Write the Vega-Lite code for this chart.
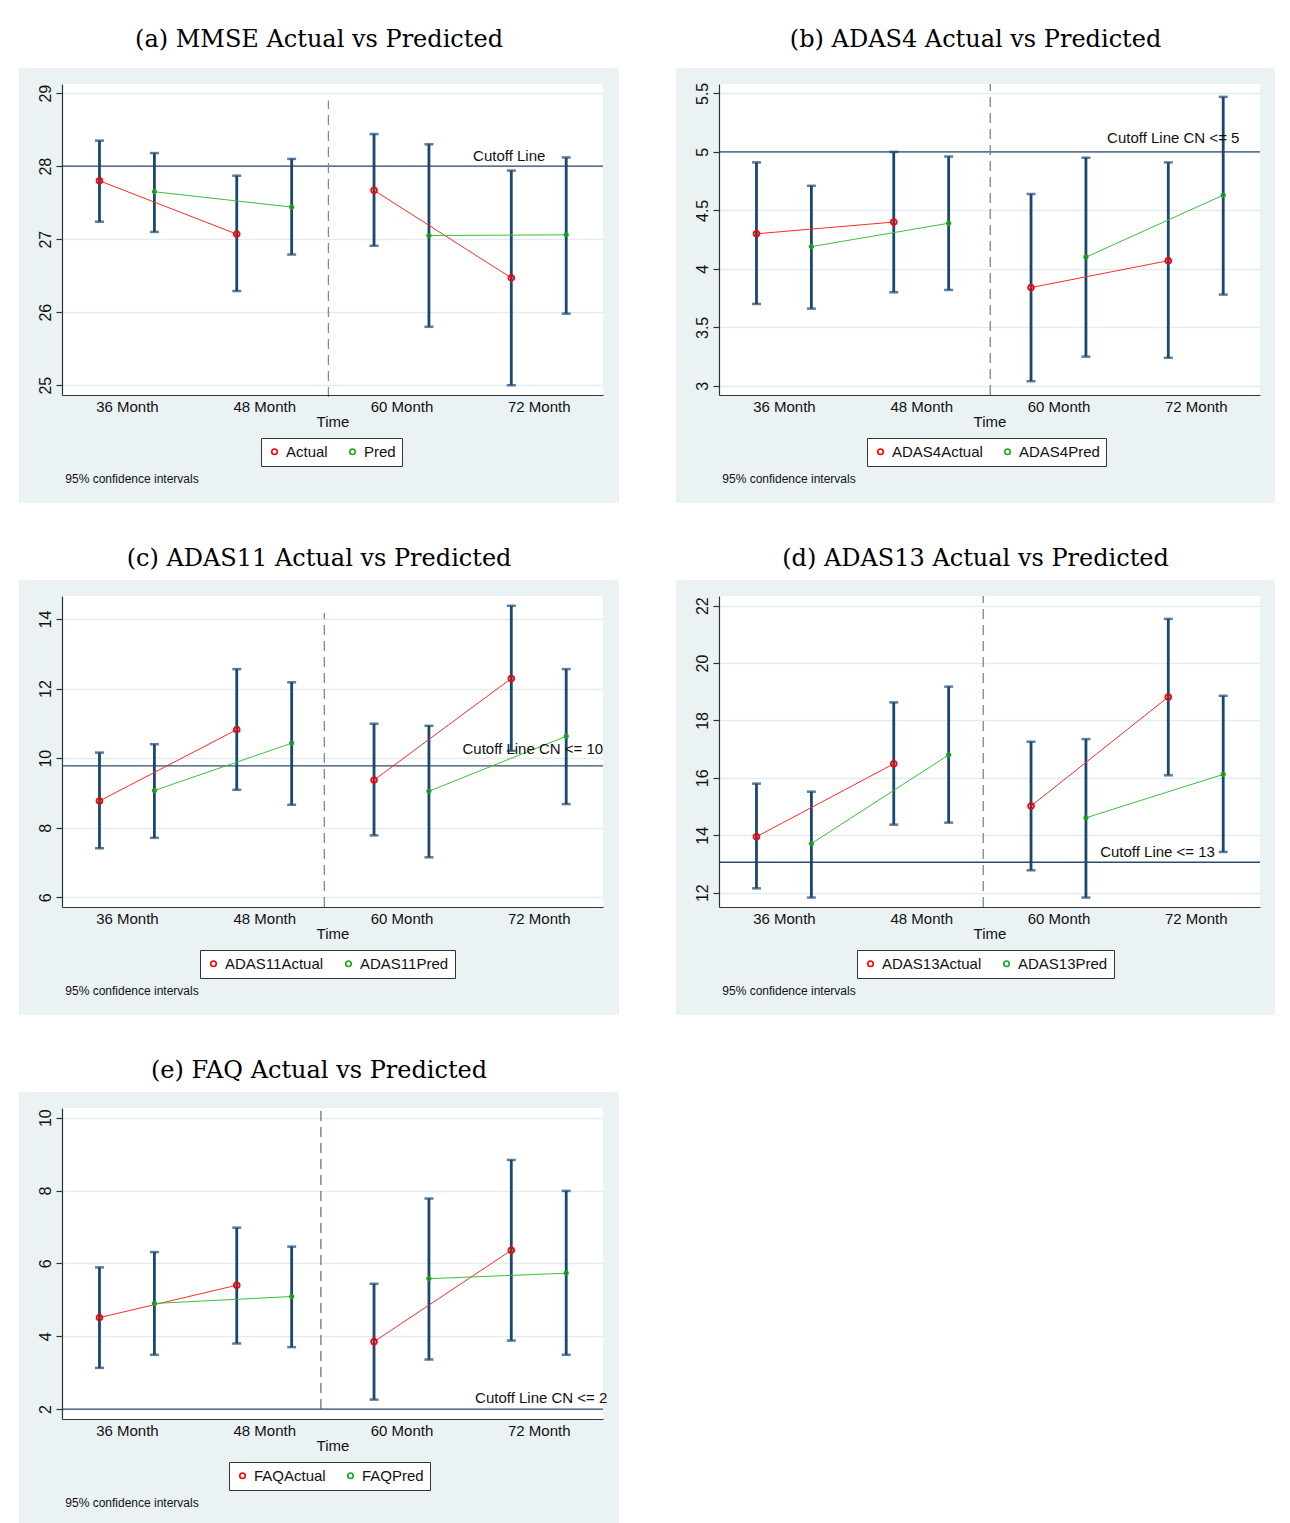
{
"$schema": "https://vega.github.io/schema/vega-lite/v6.json",
"background": "white",
"padding": {"left": 19, "top": 27, "right": 5, "bottom": 0},
"config": {
  "view": {"fill": "white", "stroke": null},
  "font": "Liberation Sans",
  "axis": {"domainColor": "#333333", "domainWidth": 1.2, "tickColor": "#333333", "tickWidth": 1.2, "labelFont": "Liberation Sans", "labelFontSize": 15, "labelColor": "#111111", "titleFont": "Liberation Sans", "titleFontSize": 15, "titleFontWeight": "normal", "titleColor": "#111111", "labelFlush": false, "labelOverlap": false},
  "title": {"font": "DejaVu Serif", "fontSize": 24, "fontWeight": "normal", "color": "#000000", "anchor": "middle", "frame": "bounds", "offset": 9, "baseline": "alphabetic"},
  "legend": {"orient": "none", "direction": "horizontal", "title": null, "fillColor": "white", "strokeColor": "#333333", "padding": 6, "labelFont": "Liberation Sans", "labelFontSize": 15, "labelColor": "#111111", "symbolSize": 30, "symbolStrokeWidth": 1.6, "symbolType": "circle", "columnPadding": 17, "labelOffset": 4, "zindex": 1, "legendY": 354}
},
"datasets": {
  "a": [
    {"t": 1, "time": "36 Month", "series": "Actual", "half": 1, "mean": 27.80, "lo": 27.24, "hi": 28.35},
    {"t": 1.4, "time": "36 Month", "series": "Pred", "half": 1, "mean": 27.65, "lo": 27.10, "hi": 28.18},
    {"t": 2, "time": "48 Month", "series": "Actual", "half": 1, "mean": 27.07, "lo": 26.29, "hi": 27.87},
    {"t": 2.4, "time": "48 Month", "series": "Pred", "half": 1, "mean": 27.44, "lo": 26.79, "hi": 28.10},
    {"t": 3, "time": "60 Month", "series": "Actual", "half": 2, "mean": 27.67, "lo": 26.91, "hi": 28.44},
    {"t": 3.4, "time": "60 Month", "series": "Pred", "half": 2, "mean": 27.05, "lo": 25.80, "hi": 28.30},
    {"t": 4, "time": "72 Month", "series": "Actual", "half": 2, "mean": 26.47, "lo": 25.00, "hi": 27.94},
    {"t": 4.4, "time": "72 Month", "series": "Pred", "half": 2, "mean": 27.06, "lo": 25.98, "hi": 28.12}
  ],
  "b": [
    {"t": 1, "time": "36 Month", "series": "ADAS4Actual", "half": 1, "mean": 4.30, "lo": 3.70, "hi": 4.91},
    {"t": 1.4, "time": "36 Month", "series": "ADAS4Pred", "half": 1, "mean": 4.19, "lo": 3.66, "hi": 4.71},
    {"t": 2, "time": "48 Month", "series": "ADAS4Actual", "half": 1, "mean": 4.40, "lo": 3.80, "hi": 5.00},
    {"t": 2.4, "time": "48 Month", "series": "ADAS4Pred", "half": 1, "mean": 4.39, "lo": 3.82, "hi": 4.96},
    {"t": 3, "time": "60 Month", "series": "ADAS4Actual", "half": 2, "mean": 3.84, "lo": 3.04, "hi": 4.64},
    {"t": 3.4, "time": "60 Month", "series": "ADAS4Pred", "half": 2, "mean": 4.10, "lo": 3.25, "hi": 4.95},
    {"t": 4, "time": "72 Month", "series": "ADAS4Actual", "half": 2, "mean": 4.07, "lo": 3.24, "hi": 4.91},
    {"t": 4.4, "time": "72 Month", "series": "ADAS4Pred", "half": 2, "mean": 4.63, "lo": 3.78, "hi": 5.47}
  ],
  "c": [
    {"t": 1, "time": "36 Month", "series": "ADAS11Actual", "half": 1, "mean": 8.77, "lo": 7.41, "hi": 10.16},
    {"t": 1.4, "time": "36 Month", "series": "ADAS11Pred", "half": 1, "mean": 9.07, "lo": 7.71, "hi": 10.40},
    {"t": 2, "time": "48 Month", "series": "ADAS11Actual", "half": 1, "mean": 10.82, "lo": 9.09, "hi": 12.56},
    {"t": 2.4, "time": "48 Month", "series": "ADAS11Pred", "half": 1, "mean": 10.43, "lo": 8.66, "hi": 12.18},
    {"t": 3, "time": "60 Month", "series": "ADAS11Actual", "half": 2, "mean": 9.37, "lo": 7.78, "hi": 10.99},
    {"t": 3.4, "time": "60 Month", "series": "ADAS11Pred", "half": 2, "mean": 9.05, "lo": 7.15, "hi": 10.93},
    {"t": 4, "time": "72 Month", "series": "ADAS11Actual", "half": 2, "mean": 12.29, "lo": 10.21, "hi": 14.38},
    {"t": 4.4, "time": "72 Month", "series": "ADAS11Pred", "half": 2, "mean": 10.63, "lo": 8.68, "hi": 12.56}
  ],
  "d": [
    {"t": 1, "time": "36 Month", "series": "ADAS13Actual", "half": 1, "mean": 13.95, "lo": 12.15, "hi": 15.80},
    {"t": 1.4, "time": "36 Month", "series": "ADAS13Pred", "half": 1, "mean": 13.71, "lo": 11.83, "hi": 15.52},
    {"t": 2, "time": "48 Month", "series": "ADAS13Actual", "half": 1, "mean": 16.49, "lo": 14.37, "hi": 18.63},
    {"t": 2.4, "time": "48 Month", "series": "ADAS13Pred", "half": 1, "mean": 16.80, "lo": 14.44, "hi": 19.18},
    {"t": 3, "time": "60 Month", "series": "ADAS13Actual", "half": 2, "mean": 15.02, "lo": 12.78, "hi": 17.26},
    {"t": 3.4, "time": "60 Month", "series": "ADAS13Pred", "half": 2, "mean": 14.61, "lo": 11.83, "hi": 17.35},
    {"t": 4, "time": "72 Month", "series": "ADAS13Actual", "half": 2, "mean": 18.82, "lo": 16.09, "hi": 21.54},
    {"t": 4.4, "time": "72 Month", "series": "ADAS13Pred", "half": 2, "mean": 16.12, "lo": 13.42, "hi": 18.86}
  ],
  "e": [
    {"t": 1, "time": "36 Month", "series": "FAQActual", "half": 1, "mean": 4.51, "lo": 3.13, "hi": 5.89},
    {"t": 1.4, "time": "36 Month", "series": "FAQPred", "half": 1, "mean": 4.90, "lo": 3.49, "hi": 6.31},
    {"t": 2, "time": "48 Month", "series": "FAQActual", "half": 1, "mean": 5.40, "lo": 3.80, "hi": 6.98},
    {"t": 2.4, "time": "48 Month", "series": "FAQPred", "half": 1, "mean": 5.09, "lo": 3.70, "hi": 6.46},
    {"t": 3, "time": "60 Month", "series": "FAQActual", "half": 2, "mean": 3.85, "lo": 2.26, "hi": 5.44},
    {"t": 3.4, "time": "60 Month", "series": "FAQPred", "half": 2, "mean": 5.58, "lo": 3.36, "hi": 7.78},
    {"t": 4, "time": "72 Month", "series": "FAQActual", "half": 2, "mean": 6.36, "lo": 3.88, "hi": 8.84},
    {"t": 4.4, "time": "72 Month", "series": "FAQPred", "half": 2, "mean": 5.73, "lo": 3.49, "hi": 7.99}
  ]
},
"spacing": 43,
"resolve": {"scale": {"color": "independent"}, "legend": {"color": "independent"}},
"vconcat": [
 {"hconcat": [
  {"width": 541, "height": 311, "title": {"text": "(a) MMSE Actual vs Predicted", "offset": 16}, "data": {"name": "a"},
   "resolve": {"axis": {"x": "independent", "y": "independent"}},
   "layer": [
    {"data": {"values": [{}]}, "mark": {"type": "rect", "color": "#eaf2f3", "strokeWidth": 0}, "encoding": {"x": {"datum": 0.414, "type": "quantitative", "axis": null}, "x2": {"datum": 4.785}, "y": {"datum": 29.126, "type": "quantitative", "axis": null}, "y2": {"datum": 29.345}}},
    {"data": {"values": [{}]}, "mark": {"type": "rect", "color": "#eaf2f3", "strokeWidth": 0}, "encoding": {"x": {"datum": 0.414, "type": "quantitative", "axis": null}, "x2": {"datum": 4.785}, "y": {"datum": 23.387, "type": "quantitative", "axis": null}, "y2": {"datum": 24.866}}},
    {"data": {"values": [{}]}, "mark": {"type": "rect", "color": "#eaf2f3", "strokeWidth": 0}, "encoding": {"x": {"datum": 0.414, "type": "quantitative", "axis": null}, "x2": {"datum": 0.727}, "y": {"datum": 24.866, "type": "quantitative", "axis": null}, "y2": {"datum": 29.126}}},
    {"data": {"values": [{}]}, "mark": {"type": "rect", "color": "#eaf2f3", "strokeWidth": 0}, "encoding": {"x": {"datum": 4.668, "type": "quantitative", "axis": null}, "x2": {"datum": 4.785}, "y": {"datum": 24.866, "type": "quantitative", "axis": null}, "y2": {"datum": 29.126}}},
    {"data": {"values": [{}]}, "mark": {"type": "rule", "color": "#2f4a6a", "strokeWidth": 1.3}, "encoding": {"y": {"datum": 28, "type": "quantitative", "axis": {"orient": "right", "values": [25, 26, 27, 28, 29], "grid": true, "gridColor": "#e3ebee", "gridWidth": 1.5, "labels": false, "ticks": false, "domain": false, "title": null, "zindex": 0, "minExtent": 0, "maxExtent": 0}}}},
    {"data": {"values": [{}]}, "mark": {"type": "rule", "color": "#7d8aa1", "strokeWidth": 1.3, "strokeDash": [10, 6]}, "encoding": {"x": {"datum": 2.668, "type": "quantitative", "axis": null}, "y": {"datum": 24.84, "type": "quantitative", "axis": null}, "y2": {"datum": 28.9}}},
    {"mark": {"type": "rule", "color": "#1a476f", "strokeWidth": 2.8}, "encoding": {
      "x": {"field": "t", "type": "quantitative", "scale": {"domain": [0.727, 4.668], "nice": false, "zero": false}, "axis": {"values": [1.2, 2.2, 3.2, 4.2], "labelExpr": "datum.value < 2 ? '36 Month' : datum.value < 3 ? '48 Month' : datum.value < 4 ? '60 Month' : '72 Month'", "title": "Time", "ticks": false, "grid": false, "labelPadding": 4, "titlePadding": 0, "zindex": 1}},
      "y": {"field": "lo", "type": "quantitative", "scale": {"domain": [24.866, 29.126], "nice": false, "zero": false}, "axis": {"orient": "left", "values": [25, 26, 27, 28, 29], "format": "~r", "labelAngle": -90, "labelAlign": "center", "labelBaseline": "alphabetic", "labelPadding": 6, "labelFontSize": 16, "tickSize": 6, "grid": false, "title": null, "zindex": 1}},
      "y2": {"field": "hi"}}},
    {"mark": {"type": "tick", "orient": "horizontal", "color": "#1a476f", "size": 9, "thickness": 2.5}, "encoding": {"x": {"field": "t", "type": "quantitative", "axis": null}, "y": {"field": "lo", "type": "quantitative", "axis": null}}},
    {"mark": {"type": "tick", "orient": "horizontal", "color": "#1a476f", "size": 9, "thickness": 2.5}, "encoding": {"x": {"field": "t", "type": "quantitative", "axis": null}, "y": {"field": "hi", "type": "quantitative", "axis": null}}},
    {"mark": {"type": "line", "strokeWidth": 1}, "encoding": {"x": {"field": "t", "type": "quantitative", "axis": null}, "y": {"field": "mean", "type": "quantitative", "axis": null}, "detail": [{"field": "series"}, {"field": "half"}], "color": {"condition": {"test": "indexof(datum.series, 'Actual') >= 0", "value": "#ff2a2a"}, "value": "#3cbf3c"}}},
    {"mark": {"type": "point", "filled": false, "strokeWidth": 1.8, "opacity": 1}, "encoding": {"x": {"field": "t", "type": "quantitative", "axis": null}, "y": {"field": "mean", "type": "quantitative", "axis": null}, "color": {"field": "series", "type": "nominal", "scale": {"domain": ["Actual", "Pred"], "range": ["#ff0000", "#1aa51a"]}, "legend": {"legendX": 199}}, "size": {"condition": {"test": "indexof(datum.series, 'Actual') >= 0", "value": 34}, "value": 12}}},
    {"data": {"values": [{}]}, "mark": {"type": "text", "align": "right", "baseline": "alphabetic", "fontSize": 15, "color": "#111111"}, "encoding": {"x": {"datum": 4.248, "type": "quantitative", "axis": null}, "y": {"datum": 28.07, "type": "quantitative", "axis": null}, "text": {"value": "Cutoff Line"}}},
    {"data": {"values": [{}]}, "mark": {"type": "text", "align": "left", "baseline": "middle", "fontSize": 12, "color": "#111111"}, "encoding": {"x": {"datum": 0.751, "type": "quantitative", "axis": null}, "y": {"datum": 23.715, "type": "quantitative", "axis": null}, "text": {"value": "95% confidence intervals"}}}
   ]},
  {"width": 541, "height": 311, "title": {"text": "(b) ADAS4 Actual vs Predicted", "offset": 16}, "data": {"name": "b"},
   "resolve": {"axis": {"x": "independent", "y": "independent"}},
   "layer": [
    {"data": {"values": [{}]}, "mark": {"type": "rect", "color": "#eaf2f3", "strokeWidth": 0}, "encoding": {"x": {"datum": 0.414, "type": "quantitative", "axis": null}, "x2": {"datum": 4.778}, "y": {"datum": 5.580, "type": "quantitative", "axis": null}, "y2": {"datum": 5.717}}},
    {"data": {"values": [{}]}, "mark": {"type": "rect", "color": "#eaf2f3", "strokeWidth": 0}, "encoding": {"x": {"datum": 0.414, "type": "quantitative", "axis": null}, "x2": {"datum": 4.778}, "y": {"datum": 1.999, "type": "quantitative", "axis": null}, "y2": {"datum": 2.922}}},
    {"data": {"values": [{}]}, "mark": {"type": "rect", "color": "#eaf2f3", "strokeWidth": 0}, "encoding": {"x": {"datum": 0.414, "type": "quantitative", "axis": null}, "x2": {"datum": 0.727}, "y": {"datum": 2.922, "type": "quantitative", "axis": null}, "y2": {"datum": 5.580}}},
    {"data": {"values": [{}]}, "mark": {"type": "rect", "color": "#eaf2f3", "strokeWidth": 0}, "encoding": {"x": {"datum": 4.668, "type": "quantitative", "axis": null}, "x2": {"datum": 4.778}, "y": {"datum": 2.922, "type": "quantitative", "axis": null}, "y2": {"datum": 5.580}}},
    {"data": {"values": [{}]}, "mark": {"type": "rule", "color": "#2f4a6a", "strokeWidth": 1.3}, "encoding": {"y": {"datum": 5, "type": "quantitative", "axis": {"orient": "right", "values": [3, 3.5, 4, 4.5, 5, 5.5], "grid": true, "gridColor": "#e3ebee", "gridWidth": 1.5, "labels": false, "ticks": false, "domain": false, "title": null, "zindex": 0, "minExtent": 0, "maxExtent": 0}}}},
    {"data": {"values": [{}]}, "mark": {"type": "rule", "color": "#6f87a6", "strokeWidth": 1.3, "strokeDash": [10, 6]}, "encoding": {"x": {"datum": 2.703, "type": "quantitative", "axis": null}, "y": {"datum": 2.922, "type": "quantitative", "axis": null}, "y2": {"datum": 5.58}}},
    {"mark": {"type": "rule", "color": "#1a476f", "strokeWidth": 2.8}, "encoding": {
      "x": {"field": "t", "type": "quantitative", "scale": {"domain": [0.727, 4.668], "nice": false, "zero": false}, "axis": {"values": [1.2, 2.2, 3.2, 4.2], "labelExpr": "datum.value < 2 ? '36 Month' : datum.value < 3 ? '48 Month' : datum.value < 4 ? '60 Month' : '72 Month'", "title": "Time", "ticks": false, "grid": false, "labelPadding": 4, "titlePadding": 0, "zindex": 1}},
      "y": {"field": "lo", "type": "quantitative", "scale": {"domain": [2.922, 5.580], "nice": false, "zero": false}, "axis": {"orient": "left", "values": [3, 3.5, 4, 4.5, 5, 5.5], "format": "~r", "labelAngle": -90, "labelAlign": "center", "labelBaseline": "alphabetic", "labelPadding": 6, "labelFontSize": 16, "tickSize": 6, "grid": false, "title": null, "zindex": 1}},
      "y2": {"field": "hi"}}},
    {"mark": {"type": "tick", "orient": "horizontal", "color": "#1a476f", "size": 9, "thickness": 2.5}, "encoding": {"x": {"field": "t", "type": "quantitative", "axis": null}, "y": {"field": "lo", "type": "quantitative", "axis": null}}},
    {"mark": {"type": "tick", "orient": "horizontal", "color": "#1a476f", "size": 9, "thickness": 2.5}, "encoding": {"x": {"field": "t", "type": "quantitative", "axis": null}, "y": {"field": "hi", "type": "quantitative", "axis": null}}},
    {"mark": {"type": "line", "strokeWidth": 1}, "encoding": {"x": {"field": "t", "type": "quantitative", "axis": null}, "y": {"field": "mean", "type": "quantitative", "axis": null}, "detail": [{"field": "series"}, {"field": "half"}], "color": {"condition": {"test": "indexof(datum.series, 'Actual') >= 0", "value": "#ff2a2a"}, "value": "#3cbf3c"}}},
    {"mark": {"type": "point", "filled": false, "strokeWidth": 1.8, "opacity": 1}, "encoding": {"x": {"field": "t", "type": "quantitative", "axis": null}, "y": {"field": "mean", "type": "quantitative", "axis": null}, "color": {"field": "series", "type": "nominal", "scale": {"domain": ["ADAS4Actual", "ADAS4Pred"], "range": ["#ff0000", "#1aa51a"]}, "legend": {"legendX": 148}}, "size": {"condition": {"test": "indexof(datum.series, 'Actual') >= 0", "value": 34}, "value": 12}}},
    {"data": {"values": [{}]}, "mark": {"type": "text", "align": "right", "baseline": "alphabetic", "fontSize": 15, "color": "#111111"}, "encoding": {"x": {"datum": 4.518, "type": "quantitative", "axis": null}, "y": {"datum": 5.073, "type": "quantitative", "axis": null}, "text": {"value": "Cutoff Line CN <= 5"}}},
    {"data": {"values": [{}]}, "mark": {"type": "text", "align": "left", "baseline": "middle", "fontSize": 12, "color": "#111111"}, "encoding": {"x": {"datum": 0.751, "type": "quantitative", "axis": null}, "y": {"datum": 2.204, "type": "quantitative", "axis": null}, "text": {"value": "95% confidence intervals"}}}
   ]}
 ], "spacing": 56, "resolve": {"scale": {"color": "independent"}, "legend": {"color": "independent"}}},
 {"hconcat": [
  {"width": 541, "height": 311, "title": "(c) ADAS11 Actual vs Predicted", "data": {"name": "c"},
   "resolve": {"axis": {"x": "independent", "y": "independent"}},
   "layer": [
    {"data": {"values": [{}]}, "mark": {"type": "rect", "color": "#eaf2f3", "strokeWidth": 0}, "encoding": {"x": {"datum": 0.414, "type": "quantitative", "axis": null}, "x2": {"datum": 4.785}, "y": {"datum": 14.661, "type": "quantitative", "axis": null}, "y2": {"datum": 15.121}}},
    {"data": {"values": [{}]}, "mark": {"type": "rect", "color": "#eaf2f3", "strokeWidth": 0}, "encoding": {"x": {"datum": 0.414, "type": "quantitative", "axis": null}, "x2": {"datum": 4.785}, "y": {"datum": 2.618, "type": "quantitative", "axis": null}, "y2": {"datum": 5.722}}},
    {"data": {"values": [{}]}, "mark": {"type": "rect", "color": "#eaf2f3", "strokeWidth": 0}, "encoding": {"x": {"datum": 0.414, "type": "quantitative", "axis": null}, "x2": {"datum": 0.727}, "y": {"datum": 5.722, "type": "quantitative", "axis": null}, "y2": {"datum": 14.661}}},
    {"data": {"values": [{}]}, "mark": {"type": "rect", "color": "#eaf2f3", "strokeWidth": 0}, "encoding": {"x": {"datum": 4.668, "type": "quantitative", "axis": null}, "x2": {"datum": 4.785}, "y": {"datum": 5.722, "type": "quantitative", "axis": null}, "y2": {"datum": 14.661}}},
    {"data": {"values": [{}]}, "mark": {"type": "rule", "color": "#2f4a6a", "strokeWidth": 1.3}, "encoding": {"y": {"datum": 9.78, "type": "quantitative", "axis": {"orient": "right", "values": [6, 8, 10, 12, 14], "grid": true, "gridColor": "#e3ebee", "gridWidth": 1.5, "labels": false, "ticks": false, "domain": false, "title": null, "zindex": 0, "minExtent": 0, "maxExtent": 0}}}},
    {"data": {"values": [{}]}, "mark": {"type": "rule", "color": "#7d8aa1", "strokeWidth": 1.3, "strokeDash": [10, 6]}, "encoding": {"x": {"datum": 2.638, "type": "quantitative", "axis": null}, "y": {"datum": 5.722, "type": "quantitative", "axis": null}, "y2": {"datum": 14.17}}},
    {"mark": {"type": "rule", "color": "#1a476f", "strokeWidth": 2.8}, "encoding": {
      "x": {"field": "t", "type": "quantitative", "scale": {"domain": [0.727, 4.668], "nice": false, "zero": false}, "axis": {"values": [1.2, 2.2, 3.2, 4.2], "labelExpr": "datum.value < 2 ? '36 Month' : datum.value < 3 ? '48 Month' : datum.value < 4 ? '60 Month' : '72 Month'", "title": "Time", "ticks": false, "grid": false, "labelPadding": 4, "titlePadding": 0, "zindex": 1}},
      "y": {"field": "lo", "type": "quantitative", "scale": {"domain": [5.722, 14.661], "nice": false, "zero": false}, "axis": {"orient": "left", "values": [6, 8, 10, 12, 14], "format": "~r", "labelAngle": -90, "labelAlign": "center", "labelBaseline": "alphabetic", "labelPadding": 6, "labelFontSize": 16, "tickSize": 6, "grid": false, "title": null, "zindex": 1}},
      "y2": {"field": "hi"}}},
    {"mark": {"type": "tick", "orient": "horizontal", "color": "#1a476f", "size": 9, "thickness": 2.5}, "encoding": {"x": {"field": "t", "type": "quantitative", "axis": null}, "y": {"field": "lo", "type": "quantitative", "axis": null}}},
    {"mark": {"type": "tick", "orient": "horizontal", "color": "#1a476f", "size": 9, "thickness": 2.5}, "encoding": {"x": {"field": "t", "type": "quantitative", "axis": null}, "y": {"field": "hi", "type": "quantitative", "axis": null}}},
    {"mark": {"type": "line", "strokeWidth": 1}, "encoding": {"x": {"field": "t", "type": "quantitative", "axis": null}, "y": {"field": "mean", "type": "quantitative", "axis": null}, "detail": [{"field": "series"}, {"field": "half"}], "color": {"condition": {"test": "indexof(datum.series, 'Actual') >= 0", "value": "#ff2a2a"}, "value": "#3cbf3c"}}},
    {"mark": {"type": "point", "filled": false, "strokeWidth": 1.8, "opacity": 1}, "encoding": {"x": {"field": "t", "type": "quantitative", "axis": null}, "y": {"field": "mean", "type": "quantitative", "axis": null}, "color": {"field": "series", "type": "nominal", "scale": {"domain": ["ADAS11Actual", "ADAS11Pred"], "range": ["#ff0000", "#1aa51a"]}, "legend": {"legendX": 138}}, "size": {"condition": {"test": "indexof(datum.series, 'Actual') >= 0", "value": 34}, "value": 12}}},
    {"data": {"values": [{}]}, "mark": {"type": "text", "align": "right", "baseline": "alphabetic", "fontSize": 15, "color": "#111111"}, "encoding": {"x": {"datum": 4.669, "type": "quantitative", "axis": null}, "y": {"datum": 10.11, "type": "quantitative", "axis": null}, "text": {"value": "Cutoff Line CN <= 10"}}},
    {"data": {"values": [{}]}, "mark": {"type": "text", "align": "left", "baseline": "middle", "fontSize": 12, "color": "#111111"}, "encoding": {"x": {"datum": 0.751, "type": "quantitative", "axis": null}, "y": {"datum": 3.307, "type": "quantitative", "axis": null}, "text": {"value": "95% confidence intervals"}}}
   ]},
  {"width": 541, "height": 311, "title": "(d) ADAS13 Actual vs Predicted", "data": {"name": "d"},
   "resolve": {"axis": {"x": "independent", "y": "independent"}},
   "layer": [
    {"data": {"values": [{}]}, "mark": {"type": "rect", "color": "#eaf2f3", "strokeWidth": 0}, "encoding": {"x": {"datum": 0.414, "type": "quantitative", "axis": null}, "x2": {"datum": 4.778}, "y": {"datum": 22.337, "type": "quantitative", "axis": null}, "y2": {"datum": 22.895}}},
    {"data": {"values": [{}]}, "mark": {"type": "rect", "color": "#eaf2f3", "strokeWidth": 0}, "encoding": {"x": {"datum": 0.414, "type": "quantitative", "axis": null}, "x2": {"datum": 4.778}, "y": {"datum": 7.738, "type": "quantitative", "axis": null}, "y2": {"datum": 11.501}}},
    {"data": {"values": [{}]}, "mark": {"type": "rect", "color": "#eaf2f3", "strokeWidth": 0}, "encoding": {"x": {"datum": 0.414, "type": "quantitative", "axis": null}, "x2": {"datum": 0.727}, "y": {"datum": 11.501, "type": "quantitative", "axis": null}, "y2": {"datum": 22.337}}},
    {"data": {"values": [{}]}, "mark": {"type": "rect", "color": "#eaf2f3", "strokeWidth": 0}, "encoding": {"x": {"datum": 4.668, "type": "quantitative", "axis": null}, "x2": {"datum": 4.778}, "y": {"datum": 11.501, "type": "quantitative", "axis": null}, "y2": {"datum": 22.337}}},
    {"data": {"values": [{}]}, "mark": {"type": "rule", "color": "#2f4a6a", "strokeWidth": 1.3}, "encoding": {"y": {"datum": 13.06, "type": "quantitative", "axis": {"orient": "right", "values": [12, 14, 16, 18, 20, 22], "grid": true, "gridColor": "#e3ebee", "gridWidth": 1.5, "labels": false, "ticks": false, "domain": false, "title": null, "zindex": 0, "minExtent": 0, "maxExtent": 0}}}},
    {"data": {"values": [{}]}, "mark": {"type": "rule", "color": "#6f87a6", "strokeWidth": 1.3, "strokeDash": [10, 6]}, "encoding": {"x": {"datum": 2.652, "type": "quantitative", "axis": null}, "y": {"datum": 11.501, "type": "quantitative", "axis": null}, "y2": {"datum": 22.337}}},
    {"mark": {"type": "rule", "color": "#1a476f", "strokeWidth": 2.8}, "encoding": {
      "x": {"field": "t", "type": "quantitative", "scale": {"domain": [0.727, 4.668], "nice": false, "zero": false}, "axis": {"values": [1.2, 2.2, 3.2, 4.2], "labelExpr": "datum.value < 2 ? '36 Month' : datum.value < 3 ? '48 Month' : datum.value < 4 ? '60 Month' : '72 Month'", "title": "Time", "ticks": false, "grid": false, "labelPadding": 4, "titlePadding": 0, "zindex": 1}},
      "y": {"field": "lo", "type": "quantitative", "scale": {"domain": [11.501, 22.337], "nice": false, "zero": false}, "axis": {"orient": "left", "values": [12, 14, 16, 18, 20, 22], "format": "~r", "labelAngle": -90, "labelAlign": "center", "labelBaseline": "alphabetic", "labelPadding": 6, "labelFontSize": 16, "tickSize": 6, "grid": false, "title": null, "zindex": 1}},
      "y2": {"field": "hi"}}},
    {"mark": {"type": "tick", "orient": "horizontal", "color": "#1a476f", "size": 9, "thickness": 2.5}, "encoding": {"x": {"field": "t", "type": "quantitative", "axis": null}, "y": {"field": "lo", "type": "quantitative", "axis": null}}},
    {"mark": {"type": "tick", "orient": "horizontal", "color": "#1a476f", "size": 9, "thickness": 2.5}, "encoding": {"x": {"field": "t", "type": "quantitative", "axis": null}, "y": {"field": "hi", "type": "quantitative", "axis": null}}},
    {"mark": {"type": "line", "strokeWidth": 1}, "encoding": {"x": {"field": "t", "type": "quantitative", "axis": null}, "y": {"field": "mean", "type": "quantitative", "axis": null}, "detail": [{"field": "series"}, {"field": "half"}], "color": {"condition": {"test": "indexof(datum.series, 'Actual') >= 0", "value": "#ff2a2a"}, "value": "#3cbf3c"}}},
    {"mark": {"type": "point", "filled": false, "strokeWidth": 1.8, "opacity": 1}, "encoding": {"x": {"field": "t", "type": "quantitative", "axis": null}, "y": {"field": "mean", "type": "quantitative", "axis": null}, "color": {"field": "series", "type": "nominal", "scale": {"domain": ["ADAS13Actual", "ADAS13Pred"], "range": ["#ff0000", "#1aa51a"]}, "legend": {"legendX": 138}}, "size": {"condition": {"test": "indexof(datum.series, 'Actual') >= 0", "value": 34}, "value": 12}}},
    {"data": {"values": [{}]}, "mark": {"type": "text", "align": "right", "baseline": "alphabetic", "fontSize": 15, "color": "#111111"}, "encoding": {"x": {"datum": 4.34, "type": "quantitative", "axis": null}, "y": {"datum": 13.25, "type": "quantitative", "axis": null}, "text": {"value": "Cutoff Line <= 13"}}},
    {"data": {"values": [{}]}, "mark": {"type": "text", "align": "left", "baseline": "middle", "fontSize": 12, "color": "#111111"}, "encoding": {"x": {"datum": 0.751, "type": "quantitative", "axis": null}, "y": {"datum": 8.574, "type": "quantitative", "axis": null}, "text": {"value": "95% confidence intervals"}}}
   ]}
 ], "spacing": 56, "resolve": {"scale": {"color": "independent"}, "legend": {"color": "independent"}}},
 {"hconcat": [
  {"width": 541, "height": 311, "title": "(e) FAQ Actual vs Predicted", "data": {"name": "e"},
   "resolve": {"axis": {"x": "independent", "y": "independent"}},
   "layer": [
    {"data": {"values": [{}]}, "mark": {"type": "rect", "color": "#eaf2f3", "strokeWidth": 0}, "encoding": {"x": {"datum": 0.414, "type": "quantitative", "axis": null}, "x2": {"datum": 4.785}, "y": {"datum": 10.266, "type": "quantitative", "axis": null}, "y2": {"datum": 10.705}}},
    {"data": {"values": [{}]}, "mark": {"type": "rect", "color": "#eaf2f3", "strokeWidth": 0}, "encoding": {"x": {"datum": 0.414, "type": "quantitative", "axis": null}, "x2": {"datum": 4.785}, "y": {"datum": -1.238, "type": "quantitative", "axis": null}, "y2": {"datum": 1.727}}},
    {"data": {"values": [{}]}, "mark": {"type": "rect", "color": "#eaf2f3", "strokeWidth": 0}, "encoding": {"x": {"datum": 0.414, "type": "quantitative", "axis": null}, "x2": {"datum": 0.727}, "y": {"datum": 1.727, "type": "quantitative", "axis": null}, "y2": {"datum": 10.266}}},
    {"data": {"values": [{}]}, "mark": {"type": "rect", "color": "#eaf2f3", "strokeWidth": 0}, "encoding": {"x": {"datum": 4.668, "type": "quantitative", "axis": null}, "x2": {"datum": 4.785}, "y": {"datum": 1.727, "type": "quantitative", "axis": null}, "y2": {"datum": 10.266}}},
    {"data": {"values": [{}]}, "mark": {"type": "rule", "color": "#2f4a6a", "strokeWidth": 1.3}, "encoding": {"y": {"datum": 2, "type": "quantitative", "axis": {"orient": "right", "values": [2, 4, 6, 8, 10], "grid": true, "gridColor": "#e3ebee", "gridWidth": 1.5, "labels": false, "ticks": false, "domain": false, "title": null, "zindex": 0, "minExtent": 0, "maxExtent": 0}}}},
    {"data": {"values": [{}]}, "mark": {"type": "rule", "color": "#5a6a88", "strokeWidth": 1.2, "strokeDash": [10, 6]}, "encoding": {"x": {"datum": 2.613, "type": "quantitative", "axis": null}, "y": {"datum": 2.0, "type": "quantitative", "axis": null}, "y2": {"datum": 10.266}}},
    {"mark": {"type": "rule", "color": "#1a476f", "strokeWidth": 2.8}, "encoding": {
      "x": {"field": "t", "type": "quantitative", "scale": {"domain": [0.727, 4.668], "nice": false, "zero": false}, "axis": {"values": [1.2, 2.2, 3.2, 4.2], "labelExpr": "datum.value < 2 ? '36 Month' : datum.value < 3 ? '48 Month' : datum.value < 4 ? '60 Month' : '72 Month'", "title": "Time", "ticks": false, "grid": false, "labelPadding": 4, "titlePadding": 0, "zindex": 1}},
      "y": {"field": "lo", "type": "quantitative", "scale": {"domain": [1.727, 10.266], "nice": false, "zero": false}, "axis": {"orient": "left", "values": [2, 4, 6, 8, 10], "format": "~r", "labelAngle": -90, "labelAlign": "center", "labelBaseline": "alphabetic", "labelPadding": 6, "labelFontSize": 16, "tickSize": 6, "grid": false, "title": null, "zindex": 1}},
      "y2": {"field": "hi"}}},
    {"mark": {"type": "tick", "orient": "horizontal", "color": "#1a476f", "size": 9, "thickness": 2.5}, "encoding": {"x": {"field": "t", "type": "quantitative", "axis": null}, "y": {"field": "lo", "type": "quantitative", "axis": null}}},
    {"mark": {"type": "tick", "orient": "horizontal", "color": "#1a476f", "size": 9, "thickness": 2.5}, "encoding": {"x": {"field": "t", "type": "quantitative", "axis": null}, "y": {"field": "hi", "type": "quantitative", "axis": null}}},
    {"mark": {"type": "line", "strokeWidth": 1}, "encoding": {"x": {"field": "t", "type": "quantitative", "axis": null}, "y": {"field": "mean", "type": "quantitative", "axis": null}, "detail": [{"field": "series"}, {"field": "half"}], "color": {"condition": {"test": "indexof(datum.series, 'Actual') >= 0", "value": "#ff2a2a"}, "value": "#3cbf3c"}}},
    {"mark": {"type": "point", "filled": false, "strokeWidth": 1.8, "opacity": 1}, "encoding": {"x": {"field": "t", "type": "quantitative", "axis": null}, "y": {"field": "mean", "type": "quantitative", "axis": null}, "color": {"field": "series", "type": "nominal", "scale": {"domain": ["FAQActual", "FAQPred"], "range": ["#ff0000", "#1aa51a"]}, "legend": {"legendX": 167}}, "size": {"condition": {"test": "indexof(datum.series, 'Actual') >= 0", "value": 34}, "value": 12}}},
    {"data": {"values": [{}]}, "mark": {"type": "text", "align": "right", "baseline": "alphabetic", "fontSize": 15, "color": "#111111"}, "encoding": {"x": {"datum": 4.70, "type": "quantitative", "axis": null}, "y": {"datum": 2.174, "type": "quantitative", "axis": null}, "text": {"value": "Cutoff Line CN <= 2"}}},
    {"data": {"values": [{}]}, "mark": {"type": "text", "align": "left", "baseline": "middle", "fontSize": 12, "color": "#111111"}, "encoding": {"x": {"datum": 0.751, "type": "quantitative", "axis": null}, "y": {"datum": -0.579, "type": "quantitative", "axis": null}, "text": {"value": "95% confidence intervals"}}}
   ]}
 ], "spacing": 56, "resolve": {"scale": {"color": "independent"}, "legend": {"color": "independent"}}}
]
}
